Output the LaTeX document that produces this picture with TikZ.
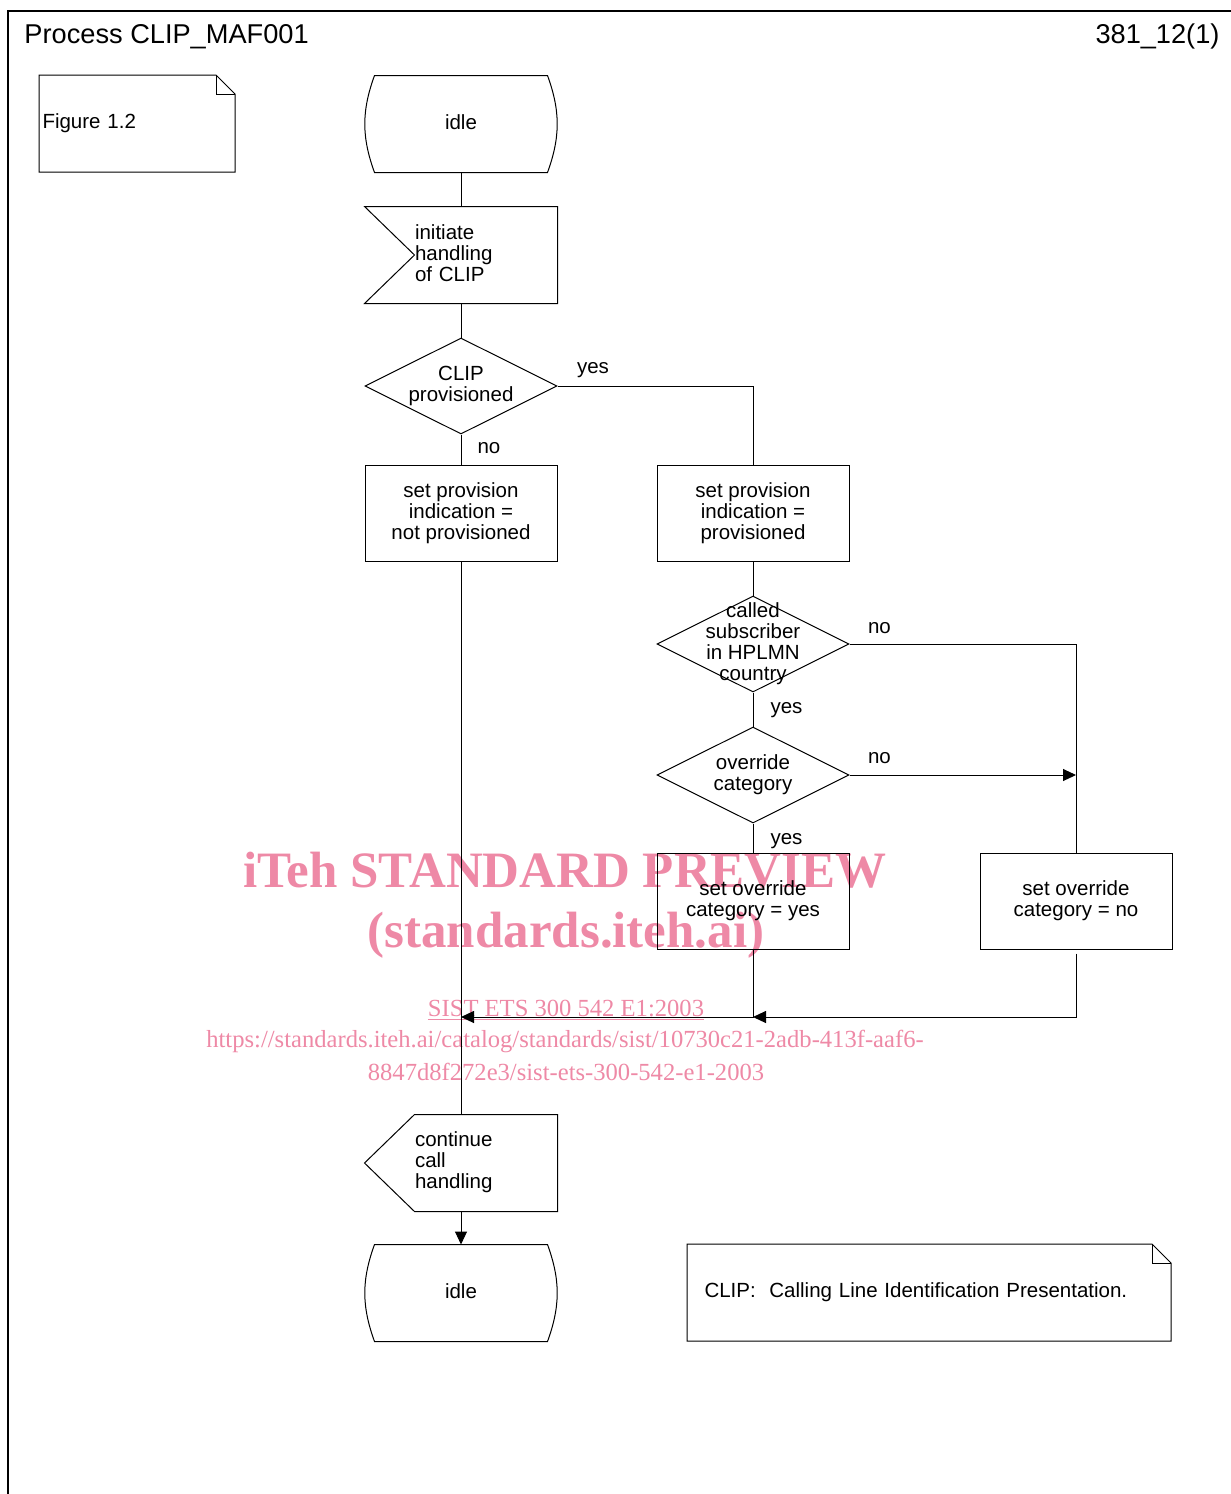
\documentclass[tikz,border=0pt]{standalone}
\usepackage{fontspec}
\setmainfont{Liberation Sans}
\newfontfamily\wmfont{Liberation Serif}
\usetikzlibrary{arrows.meta,shapes.geometric}
\definecolor{wmpink}{RGB}{238,137,166}

\begin{document}
\begin{tikzpicture}[x=0.5pt,y=-0.5pt,line width=0.5pt,
        every node/.style={font=\fontsize{10.25}{10.5}\selectfont},
        state/.style={minimum width=96pt,minimum height=48pt,inner sep=0pt},
        task/.style={draw,rectangle,align=center,minimum width=96pt,minimum height=48pt,inner sep=0pt},
        decision/.style={draw,diamond,aspect=2,minimum width=96pt,minimum height=48pt,inner sep=0pt},
        signalbox/.style={align=left,text width=71pt,minimum height=48pt,inner sep=0pt},
        note/.style={align=left,minimum height=48pt,inner ysep=0pt,anchor=north west},
        lbl/.style={anchor=base west,inner sep=0pt},
        flow/.style={-{Triangle[length=6.5pt,width=6pt]}},
        wm/.style={text=wmpink,inner sep=0pt,anchor=base},
        wmbig/.style={wm,font=\wmfont\bfseries\fontsize{25.5}{26}\selectfont},
        wmsmall/.style={wm,font=\wmfont\fontsize{12.3}{13}\selectfont}]
        \useasboundingbox (0,0) rectangle (1231,1494);

        \node[wmbig] (wmA) at (565,887) {iTeh STANDARD PREVIEW};
        \node[wmbig] (wmB) at (566,947) {(standards.iteh.ai)};
        \node[wmsmall] (wmC) at (566,1016) {\underline{SIST ETS 300 542 E1:2003}};
        \node[wmsmall] (wmD) at (565,1047) {https://standards.iteh.ai/catalog/standards/sist/10730c21-2adb-413f-aaf6-};
        \node[wmsmall] (wmE) at (566,1080) {8847d8f272e3/sist-ets-300-542-e1-2003};

        \draw[line width=0.6pt] (1231,11) -- (8,11) -- (8,1494);
        \node[anchor=base west,inner sep=0pt,font=\fontsize{13.6}{16}\selectfont] (title) at (24,43) {Process CLIP\_MAF001};
        \node[anchor=base east,inner sep=0pt,font=\fontsize{13.6}{16}\selectfont] (page) at (1220,43) {381\_12(1)};

        \node[note,text width=94.5pt,inner xsep=1.5pt] (fig) at (39,75) {Figure 1.2};
        \node[note,text width=224.5pt,inner xsep=8.5pt] (abbr) at (687,1244) {CLIP:\ \ Calling Line Identification Presentation.};
        \foreach \n in {fig,abbr} {
            \draw (\n.north west) -- ([xshift=-9.5pt]\n.north east) -- ([yshift=-9.5pt]\n.north east) -- (\n.south east) -- (\n.south west) -- cycle;
            \draw ([xshift=-9.5pt]\n.north east) |- ([yshift=-9.5pt]\n.north east);
        }

        \node[state] (idleA) at (461,122) {idle};
        \node[signalbox] (init) at (486,253) {initiate\\handling\\of CLIP};
        \node[decision,label={[align=center]center:CLIP\\provisioned}] (d1) at (461,386) {};
        \node[task] (t1) at (461,513) {set provision\\indication =\\not provisioned};
        \node[task] (t2) at (753,513) {set provision\\indication =\\provisioned};
        \node[decision,label={[align=center]center:called\\subscriber\\in HPLMN\\country}] (d2) at (753,644) {};
        \node[decision,label={[align=center]center:override\\category}] (d3) at (753,775) {};
        \node[task] (t3) at (753,901) {set override\\category = yes};
        \node[task] (t4) at (1076,901) {set override\\category = no};
        \node[signalbox] (cont) at (486,1162) {continue\\call\\handling};
        \node[state] (idleB) at (461,1291) {idle};
        \coordinate (jn) at (461,1017);

        \foreach \s in {idleA,idleB}
            \draw ([shift={(5pt,-1pt)}]\s.north west) -- ([shift={(-5pt,-1pt)}]\s.north east) to[out=-70,in=70] ([shift={(-5pt,-1pt)}]\s.south east)
                -- ([shift={(5pt,-1pt)}]\s.south west) to[out=110,in=-110] ([shift={(5pt,-1pt)}]\s.north west) -- cycle;
        \draw ([shift={(-25pt,-1pt)}]init.north west) -- ([yshift=-1pt]init.north east) -- ([yshift=-1pt]init.south east) -- ([shift={(-25pt,-1pt)}]init.south west) -- ([yshift=-1pt]init.west) -- cycle;
        \draw ([yshift=-0.5pt]cont.north west) -- ([yshift=-0.5pt]cont.north east) -- ([yshift=-0.5pt]cont.south east) -- ([yshift=-0.5pt]cont.south west) -- ([shift={(-25pt,-0.5pt)}]cont.west) -- cycle;

        \draw ([yshift=-1pt]idleA.south) -- ([yshift=-1pt]idleA.south |- init.north);
        \draw ([yshift=-1pt]d1.north |- init.south) -- (d1.north);
        \draw (d1.south) node[lbl,xshift=8pt,yshift=-9.5pt] {no} -- (t1.north);
        \draw (d1.east) node[lbl,xshift=9.5pt,yshift=6.5pt] {yes} -| (t2.north);
        \draw (t2.south) -- (d2.north);
        \draw (d2.south) node[lbl,xshift=8.5pt,yshift=-10.5pt] {yes} -- (d3.north);
        \draw (d2.east) node[lbl,xshift=9pt,yshift=5.5pt] {no} -| (t4.north);
        \draw[flow] (d3.east) node[lbl,xshift=9pt,yshift=6pt] {no} -- (d3.east -| t4.north);
        \draw (d3.south) node[lbl,xshift=8.5pt,yshift=-10.5pt] {yes} -- (t3.north);
        \draw[flow] (t3.south) |- (jn);
        \draw[flow] ([yshift=-2pt]t4.south) |- (t3.south |- jn);
        \draw (t1.south) -- ([yshift=-0.5pt]t1.south |- cont.north);
        \draw[flow] ([yshift=-0.5pt]idleB.north |- cont.south) -- ([yshift=-1pt]idleB.north);
\end{tikzpicture}
\end{document}
